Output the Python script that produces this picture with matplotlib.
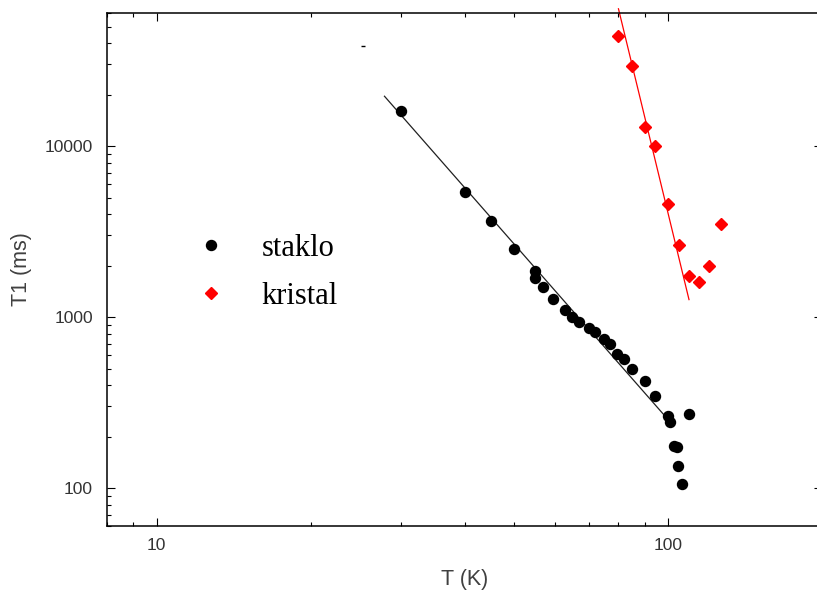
#-*- coding:utf-8 -*-

# Importation des modules
import matplotlib
matplotlib.use("Agg")
import matplotlib.pyplot as plt
from matplotlib.ticker import LogLocator, NullFormatter, FixedLocator, FixedFormatter


# Données : staklo (verre)
staklo_T = [30, 40, 45, 50, 55, 55, 57, 59.5, 63, 65, 67, 70, 72, 75, 77, 79.5,
            82, 85, 90, 94.5, 100, 101, 110, 102.7, 104, 104.5, 106.5]
staklo_T1 = [16000, 5400, 3650, 2500, 1870, 1700, 1500, 1270, 1100, 1000, 940, 860,
             815, 745, 700, 610, 565, 500, 425, 345, 265, 245, 272, 177, 175, 135, 105]

# Données : kristal
kristal_T = [80, 85, 90, 94.5, 100, 105, 110, 115, 120, 127]
kristal_T1 = [44000, 29500, 13000, 10000, 4600, 2630, 1750, 1610, 2000, 3500]

# Droites d'ajustement (extrémités)
fit_staklo_T = [27.9, 99.5]
fit_staklo_T1 = [19560, 256]
fit_kristal_T = [80.0, 109.9]
fit_kristal_T1 = [63500, 1265]

# Petit artefact visible sur la figure
artefakt_T = [25.3]
artefakt_T1 = [38300]

# Graduations
x_major = [10, 100]
x_labels = ["10", "100"]
y_major = [100, 1000, 10000]
y_labels = ["100", "1000", "10000"]


# Création de la figure
fig = plt.figure(figsize=(8.17, 5.90), dpi=100)
ax = fig.add_axes([107 / 817, 1 - 526 / 590, 715 / 817, 513 / 590])
ax.set_xscale("log")
ax.set_yscale("log")
ax.set_xlim(8, 200)
ax.set_ylim(60, 60000)

# Droites d'ajustement
ax.plot(fit_staklo_T, fit_staklo_T1, color="#202020", lw=0.9, zorder=2)
ax.plot(fit_kristal_T, fit_kristal_T1, color="#ff0000", lw=0.9, zorder=2, clip_on=False)

# Points de mesure
h1, = ax.plot(staklo_T, staklo_T1, ls="none", marker="o", ms=7.2, color="black",
              label="staklo", zorder=3)
h2, = ax.plot(kristal_T, kristal_T1, ls="none", marker="D", ms=6.5, color="#ff0000",
              label="kristal", zorder=3)
ax.plot(artefakt_T, artefakt_T1, ls="none", marker="_", ms=3, color="black", mew=1)

# Axes et graduations
ax.xaxis.set_major_locator(FixedLocator(x_major))
ax.xaxis.set_major_formatter(FixedFormatter(x_labels))
ax.yaxis.set_major_locator(FixedLocator(y_major))
ax.yaxis.set_major_formatter(FixedFormatter(y_labels))
ax.xaxis.set_minor_locator(LogLocator(base=10, subs=range(2, 10)))
ax.yaxis.set_minor_locator(LogLocator(base=10, subs=range(2, 10)))
ax.xaxis.set_minor_formatter(NullFormatter())
ax.yaxis.set_minor_formatter(NullFormatter())
ax.tick_params(which="both", direction="in", top=True, right=True, color="black",
               width=0.8, labelcolor="#333333", labelsize=12.5,
               labelfontfamily="Liberation Sans")
ax.tick_params(which="major", length=5.8)
ax.tick_params(which="minor", length=3)
ax.tick_params(axis="y", pad=10)
ax.tick_params(axis="x", pad=9)
for spine in ax.spines.values():
	spine.set_linewidth(1.1)

# Annotation de la figure
ax.set_xlabel("T (K)", fontsize=15.5, color="#404040", family="Liberation Sans", labelpad=11)
ax.set_ylabel("T1 (ms)", fontsize=15.5, color="#404040", family="Liberation Sans", labelpad=9)

# Légende
ax.legend(handles=[h1, h2], loc="upper left", bbox_to_anchor=(0.126, 0.569),
          frameon=False, borderpad=0, borderaxespad=0, handlelength=0.9,
          handletextpad=1.2, labelspacing=0.62,
          prop={"family": "Liberation Serif", "size": 22})

fig.savefig("out.png", dpi=100)
